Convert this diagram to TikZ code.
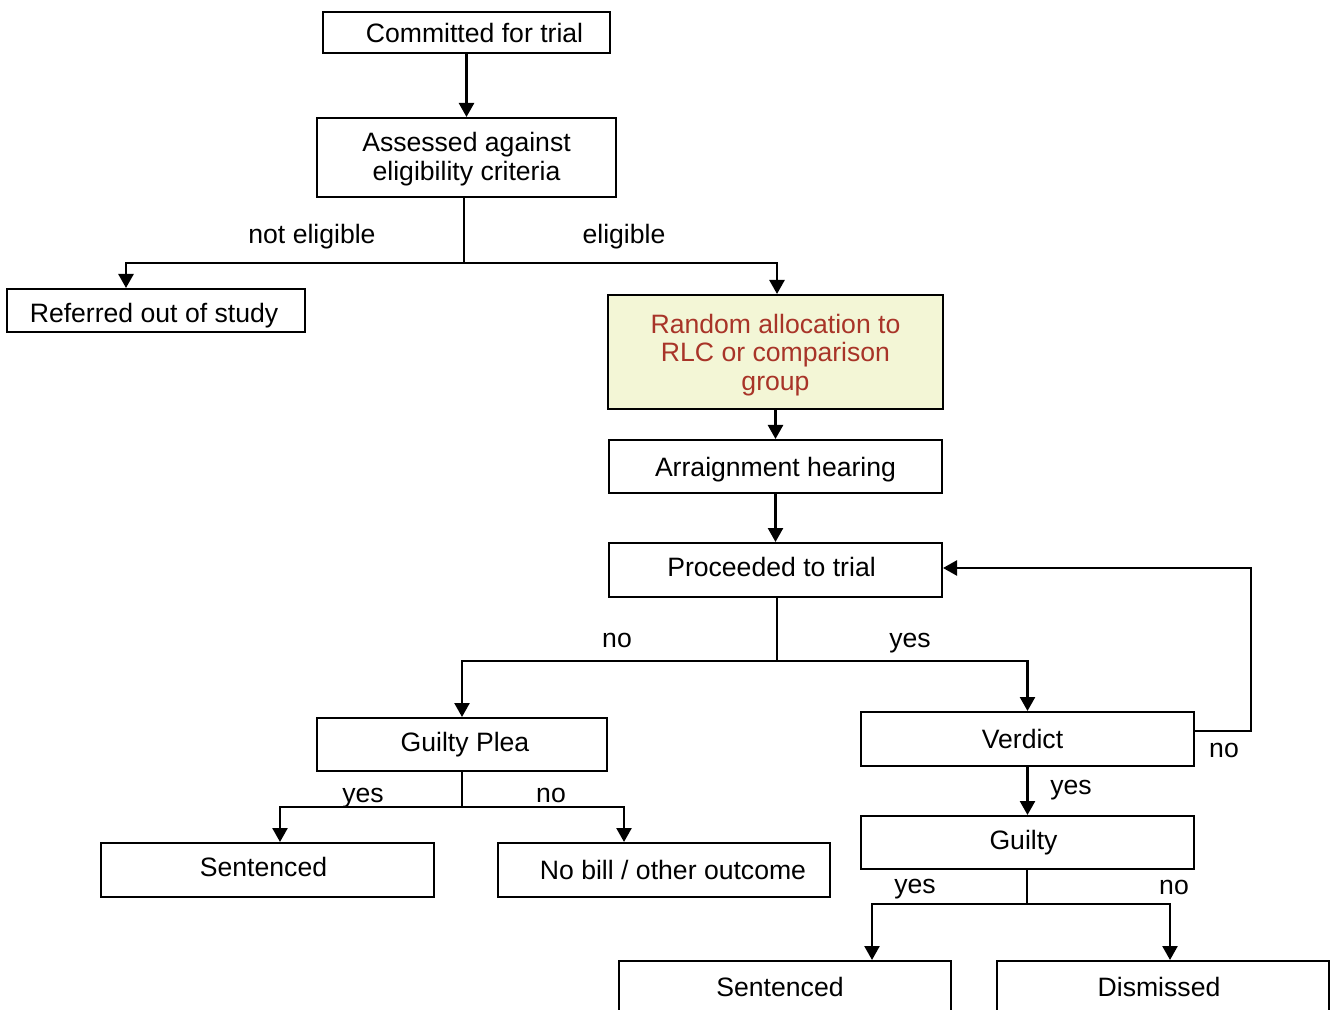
\documentclass[tikz,border=0pt]{standalone}
\usepackage{fontspec}
\setmainfont{Liberation Sans}
\usetikzlibrary{arrows.meta}
\definecolor{randfill}{RGB}{243,246,214}
\definecolor{randtext}{RGB}{168,52,40}
\newcommand{\upstrut}[1]{\rule{0pt}{#1}}
\newcommand{\dnstrut}[1]{\rule[-#1]{0pt}{#1}}
\begin{document}
\begin{tikzpicture}[x=0.5pt,y=-0.5pt,
  every node/.style={font=\fontsize{13.3}{14.5}\selectfont},
  box/.style={draw, line width=1pt, inner sep=0pt, align=center},
  lbl/.style={inner sep=0pt},
  conn/.style={line width=1.25pt},
  arr/.style={line width=1.25pt, -{Triangle[length=7pt,width=7.5pt]}}]
\clip (0,0) rectangle (1338,1010);
\fill[white] (0,0) rectangle (1338,1010);
% boxes
\node[box, minimum width=143.5pt, minimum height=20.5pt] (commit) at (466.5,32.5) {\hspace{8pt}Committed for trial};
\node[box, minimum width=149.5pt, minimum height=39.5pt] (assess) at (466.5,157.5) {\upstrut{11.7pt}Assessed against\hspace{3pt}\\eligibility criteria\hspace{3pt}};
\node[box, minimum width=149pt, minimum height=21.5pt] (referred) at (156,310.5) {\upstrut{14.7pt}Referred out of study\hspace{2pt}};
\node[box, minimum width=167.5pt, minimum height=57pt, fill=randfill, text=randtext, font=\fontsize{13.3}{14.25}\selectfont] (random) at (775.5,352) {\upstrut{12.7pt}Random allocation to\\RLC or comparison\\group};
\node[box, minimum width=166.5pt, minimum height=26.5pt] (arraign) at (775.5,466.5) {\upstrut{12.7pt}Arraignment hearing};
\node[box, minimum width=166.5pt, minimum height=27pt] (proceed) at (775.5,570) {\dnstrut{3pt}Proceeded to trial\hspace{4pt}};
\node[box, minimum width=145pt, minimum height=26.5pt] (gplea) at (462,744.5) {\hspace{3pt}Guilty Plea};
\node[box, minimum width=166.5pt, minimum height=27pt] (verdict) at (1027.5,739) {Verdict\hspace{5pt}};
\node[box, minimum width=166.5pt, minimum height=26.5pt] (guilty) at (1027.5,842.5) {Guilty\hspace{4pt}};
\node[box, minimum width=166.5pt, minimum height=27pt] (sent1) at (267.5,870) {\dnstrut{3pt}Sentenced\hspace{4pt}};
\node[box, minimum width=166pt, minimum height=27pt] (nobill) at (664,870) {\hspace{9pt}No bill / other outcome};
\node[box, minimum width=166pt, minimum height=26pt] (sent2) at (785,987) {Sentenced\hspace{5pt}};
\node[box, minimum width=166pt, minimum height=26pt] (dismiss) at (1163,987) {Dismissed\hspace{4pt}};
% labels
\node[lbl] (lne) at (312,237) {not eligible};
\node[lbl] (le) at (624,237) {eligible};
\node[lbl] (lpno) at (617,640) {no};
\node[lbl] (lpyes) at (910,643) {yes};
\node[lbl] (lvno) at (1224,750) {no};
\node[lbl] (lvyes) at (1071,790) {yes};
\node[lbl] (lgpyes) at (363,798) {yes};
\node[lbl] (lgpno) at (551,795) {no};
\node[lbl] (lgyes) at (915,889) {yes};
\node[lbl] (lgno) at (1174,887) {no};
% junctions
\coordinate (j1) at (464,263);
\coordinate (j2) at (777,661);
\coordinate (j3) at (462,807);
\coordinate (j4) at (1027,904);
% connectors
\draw[arr] (commit.south) -- (assess.north);
\draw[conn] (assess.south -| j1) -- (j1);
\draw[arr] (j1) -| ([xshift=-15pt]referred.north);
\draw[arr] (j1) -| ([xshift=0.75pt]random.north);
\draw[arr] (random.south) -- (arraign.north);
\draw[arr] (arraign.south) -- (proceed.north);
\draw[conn] (proceed.south -| j2) -- (j2);
\draw[arr] (j2) -| (gplea.north);
\draw[arr] (j2) -| (verdict.north);
\draw[arr] ([yshift=4pt]verdict.east) -- ++(56,0) |- ([yshift=1pt]proceed.east);
\draw[arr] (verdict.south) -- (guilty.north);
\draw[conn] (gplea.south -| j3) -- (j3);
\draw[arr] (j3) -| ([xshift=6.25pt]sent1.north);
\draw[arr] (j3) -| ([xshift=-20pt]nobill.north);
\draw[conn] (guilty.south -| j4) -- (j4);
\draw[arr] (j4) -| ([xshift=43.5pt]sent2.north);
\draw[arr] (j4) -| ([xshift=3.5pt]dismiss.north);
\end{tikzpicture}
\end{document}
